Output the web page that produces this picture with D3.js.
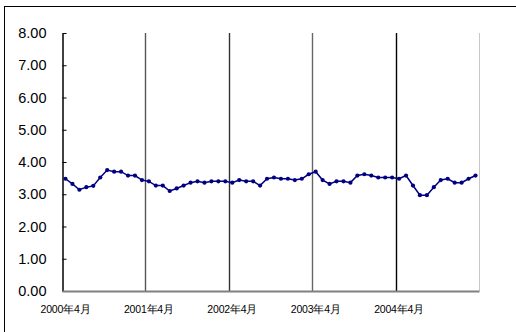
<!DOCTYPE html>
<html>
<head>
<meta charset="utf-8">
<script src="https://cdn.jsdelivr.net/npm/d3@7"></script>
<style>
  html, body { margin: 0; padding: 0; background: #fff; }
  svg { display: block; }
  text { font-family: "Liberation Sans", Arial, sans-serif; fill: #000; }
</style>
</head>
<body>
<svg id="chart" width="516" height="332"></svg>
<script>
// Monthly values, April 2000 through March 2005
const months = [];
for (let yy = 2000; yy <= 2004; yy++) {
  for (let m = 4; m <= 15; m++) {
    const yr = m > 12 ? yy + 1 : yy;
    const mo = m > 12 ? m - 12 : m;
    months.push(yr + "年" + mo + "月");
  }
}
const values = [
  3.48, 3.32, 3.14, 3.22, 3.26, 3.52, 3.75, 3.70, 3.70, 3.58, 3.58, 3.44,
  3.40, 3.27, 3.27, 3.10, 3.18, 3.27, 3.36, 3.40, 3.36, 3.40, 3.40, 3.40,
  3.36, 3.44, 3.40, 3.40, 3.27, 3.48, 3.52, 3.48, 3.48, 3.44, 3.48, 3.62,
  3.70, 3.44, 3.32, 3.40, 3.40, 3.36, 3.58, 3.62, 3.58, 3.52, 3.52, 3.52,
  3.48, 3.58, 3.27, 2.97, 2.97, 3.22, 3.44, 3.48, 3.36, 3.36, 3.48, 3.58
];
const yTicks = [0, 1, 2, 3, 4, 5, 6, 7, 8];
const xTickLabels = ["2000年4月", "2001年4月", "2002年4月", "2003年4月", "2004年4月"];

const svg = d3.select("#chart");
const plotLeft = 62, plotRight = 479, plotTop = 33, plotBottom = 291;

// outer frame
svg.append("rect")
  .attr("x", 4.5).attr("y", 6.5)
  .attr("width", 530).attr("height", 340)
  .attr("fill", "none").attr("stroke", "#000").attr("stroke-width", 1);

const x = d3.scaleBand().domain(months).range([plotLeft, plotRight]).padding(0);
const y = d3.scaleLinear().domain([0, 8]).range([plotBottom, plotTop]);

// yearly separators at each April boundary
const sepColors = ["#555", "#333", "#666", "#000"];
xTickLabels.slice(1).forEach((lab, i) => {
  const xv = Math.round(x(lab)) + 0.5;
  svg.append("line")
    .attr("x1", xv).attr("x2", xv)
    .attr("y1", plotTop).attr("y2", plotBottom)
    .attr("stroke", sepColors[i]).attr("stroke-width", 1.4);
});
// right edge of plot area
svg.append("line")
  .attr("x1", plotRight + 0.5).attr("x2", plotRight + 0.5)
  .attr("y1", plotTop).attr("y2", plotBottom)
  .attr("stroke", "#c8c8c8").attr("stroke-width", 1);

// y axis
const yAxis = d3.axisLeft(y).tickValues(yTicks)
  .tickFormat(d3.format(".2f")).tickSizeInner(-4).tickSizeOuter(0).tickPadding(16);
const gy = svg.append("g").attr("transform", `translate(${plotLeft + 0.5},0)`).call(yAxis);
gy.select(".domain").attr("stroke", "#000").attr("stroke-width", 1.5);
gy.selectAll(".tick line").attr("stroke", "#000");
gy.selectAll("text").attr("font-size", 14.5).attr("fill", "#000");

// x axis
const xAxis = d3.axisBottom(x).tickValues(xTickLabels).tickSize(0).tickPadding(15);
const gx = svg.append("g").attr("transform", `translate(0,${plotBottom})`).call(xAxis);
gx.select(".domain").attr("stroke", "#808080").attr("stroke-width", 2);
gx.selectAll("text").attr("font-size", 10.5).attr("fill", "#000")
  .attr("font-family", "'Noto Sans CJK SC', 'Liberation Sans', sans-serif")
  .attr("letter-spacing", "-0.2");

// series line and markers
const cx = d => x(d) + x.bandwidth() / 2;
const line = d3.line().x((d, i) => cx(months[i])).y(d => y(d));
svg.append("path").datum(values)
  .attr("d", line).attr("fill", "none")
  .attr("stroke", "#000080").attr("stroke-width", 1.5);
svg.selectAll("circle.pt").data(values).enter().append("circle")
  .attr("class", "pt")
  .attr("cx", (d, i) => cx(months[i])).attr("cy", d => y(d))
  .attr("r", 2.1).attr("fill", "#000080");
</script>
</body>
</html>
